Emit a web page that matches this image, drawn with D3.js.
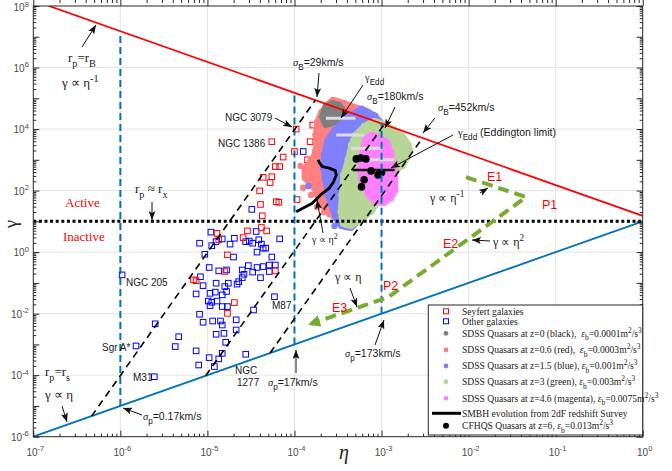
<!DOCTYPE html>
<html>
<head>
<meta charset="utf-8">
<script src="https://cdn.jsdelivr.net/npm/d3@7"></script>
<style>
  body { margin: 0; background: #fff; }
  text { white-space: pre; }
</style>
</head>
<body>
<div id="chart"></div>
<script>
// all values are log10(eta), log10(gamma)
var xTickExp = [-7, -6, -5, -4, -3, -2, -1, 0];
var yTickExp = [-6, -4, -2, 0, 2, 4, 6, 8];

var seyfert = [[-3.98,4.00],[-3.79,4.13],[-4.26,3.59],[-3.82,3.59],[-4.00,3.27],[-4.13,3.09],[-3.85,3.00],[-3.78,2.76],
  [-4.22,2.78],[-4.17,2.78],[-4.26,2.45],[-4.36,2.43],[-4.28,2.26],[-4.40,1.99],[-4.39,1.55],[-4.21,1.64],[-4.18,1.62],
  [-3.97,1.71],[-4.37,1.18],[-4.54,0.69],[-4.38,0.80],[-4.32,0.69],[-4.89,0.61],[-4.87,0.40],[-4.59,0.47],[-4.77,-0.09],
  [-4.80,-0.63],[-5.16,-0.90],[-5.13,-0.93],[-4.69,-1.64],[-4.77,-1.99],[-4.22,-0.61]];

var others = [[-4.96,0.65],[-5.09,0.29],[-4.95,0.21],[-4.90,0.34],[-4.83,0.43],[-4.74,0.26],[-4.69,0.45],[-4.56,0.34],
  [-4.52,0.36],[-4.44,0.67],[-4.48,0.29],[-4.41,0.40],[-4.38,0.26],[-4.36,0.13],[-4.43,0.00],[-4.33,0.13],[-4.17,0.43],
  [-5.03,-0.07],[-4.70,-0.16],[-4.26,-0.16],[-4.98,-0.50],[-4.87,-0.61],[-4.78,-0.58],[-4.60,-0.58],[-4.53,-0.44],
  [-4.43,-0.50],[-4.36,-0.47],[-4.29,-0.42],[-4.22,-0.42],[-4.48,-0.65],[-4.39,-0.83],[-4.29,-0.63],[-4.58,-0.72],
  [-4.60,-0.83],[-4.64,-0.96],[-4.66,-1.04],[-5.08,-0.80],[-5.05,-1.09],[-4.90,-1.01],[-4.80,-1.12],[-4.76,-1.01],
  [-5.13,-1.36],[-4.97,-1.34],[-4.91,-1.30],[-4.83,-1.39],[-4.78,-1.28],[-4.99,-1.59],[-4.95,-1.63],[-4.89,-1.59],
  [-4.97,-1.74],[-4.83,-1.77],[-4.77,-1.77],[-4.47,-1.88],[-4.23,-1.45],[-5.09,-2.02],[-5.05,-2.28],[-4.94,-2.24],
  [-4.85,-2.24],[-4.83,-2.37],[-4.67,-2.20],[-4.90,-2.67],[-4.81,-2.64],[-4.67,-2.53],[-5.60,-2.33],[-5.33,-2.75],
  [-5.37,-3.07],[-4.79,-2.93],[-5.13,-3.21],[-4.83,-3.29],[-4.56,-3.32],[-4.98,-3.43],[-4.87,-3.47],[-5.10,-3.67],
  [-4.92,-3.72],[-5.61,-4.05],[-5.98,-0.74],[-5.82,-3.05],[-3.90,3.27],[-4.49,1.39]];

// quasar samples, outline of each cloud plus stray points
var grayCloud = [[-3.68,4.41],[-3.64,4.73],[-3.56,4.84],[-3.49,4.79],[-3.44,4.60],[-3.45,4.35],[-3.51,4.24],[-3.64,4.14]];
var salmonCloud = [[-3.64,4.75],[-3.56,4.95],[-3.43,4.85],[-3.28,4.69],[-3.20,4.36],[-3.25,3.81],[-3.35,3.00],[-3.39,2.02],
  [-3.43,1.31],[-3.51,1.11],[-3.60,1.24],[-3.69,1.53],[-3.74,1.86],[-3.81,2.18],[-3.88,2.41],[-3.88,2.74],[-3.81,3.00],
  [-3.76,3.32],[-3.76,3.81],[-3.74,4.23],[-3.69,4.56]];
var salmonExtra = [[-3.90,2.09],[-3.85,2.35],[-3.93,2.80],[-3.81,1.86],[-3.74,1.47],[-3.66,1.31]];
var blueCloud = [[-3.62,3.65],[-3.54,3.97],[-3.43,4.30],[-3.35,4.46],[-3.23,4.66],[-3.09,4.46],[-2.97,4.07],[-3.00,3.65],
  [-3.14,3.00],[-3.20,2.18],[-3.23,1.53],[-3.28,0.98],[-3.35,0.79],[-3.46,0.85],[-3.53,1.11],[-3.58,1.53],[-3.62,1.86],
  [-3.65,2.35],[-3.67,2.74],[-3.66,3.16]];
var blueExtra = [[-3.07,4.43],[-2.96,4.10],[-3.54,0.85],[-3.38,0.98],[-3.84,2.15]];
var greenCloud = [[-3.30,3.81],[-3.20,4.10],[-3.08,4.26],[-2.97,4.17],[-2.85,3.97],[-2.76,3.78],[-2.69,3.48],[-2.70,3.09],
  [-2.76,2.80],[-2.84,2.61],[-2.93,2.15],[-3.02,1.70],[-3.12,1.31],[-3.23,1.05],[-3.35,0.85],[-3.44,0.92],[-3.47,1.31],
  [-3.46,1.86],[-3.44,2.51],[-3.39,3.00],[-3.35,3.48]];
var greenExtra = [[-2.67,3.32],[-2.98,1.83]];
var magentaCloud = [[-3.19,3.65],[-3.12,3.81],[-3.02,3.74],[-2.93,3.55],[-2.89,3.26],[-2.86,2.83],[-2.84,2.41],[-2.84,2.02],
  [-2.89,1.76],[-2.97,1.60],[-3.07,1.63],[-3.16,1.89],[-3.23,2.28],[-3.25,2.67],[-3.23,3.16]];
var cfhqs = [[-3.29,3.03],[-3.24,3.06],[-3.18,3.03],[-3.12,2.64],[-3.04,2.51],[-3.00,2.59],[-3.20,2.35],[-3.23,2.12]];
// gamma_Edd of each sample: [eta from, eta to, gamma]
var gammaEdd = [[-3.64,-3.30,4.35],[-3.52,-3.20,3.81],[-3.35,-3.00,3.38],[-3.20,-2.85,3.00]];
var gammaEddCfhqs = [-3.33,-2.85,2.67];
var smbh = [[-3.98,1.31],[-3.91,1.42],[-3.80,1.58],[-3.70,1.86],[-3.60,2.08],[-3.55,2.29],[-3.52,2.51],[-3.53,2.65],
  [-3.60,2.73],[-3.68,2.78],[-3.71,2.89],[-3.73,3.00]];

// boundary lines
var lineRB = [[-6.82,8],[0,1.18]];
var lineRS = [[-7,-6],[0,1]];
var lineRX = [[-7,1],[0,1]];
var sigmaP = [[[-6,-5],[-6,7.18]],[[-4,-3],[-4,5.18]],[[-3,-2],[-3,4.18]]];
var sigmaB = [[[-6.33,-5.33],[-3.76,4.94]],[[-5.02,-4.02],[-2.97,4.15]],[[-4.28,-3.28],[-2.53,3.71]]];
var evolution = [[-2.03,2.44],[-1.34,1.79],[-2.92,-1.46],[-3.81,-2.33]];

var serif = "'Liberation Serif','Times New Roman',serif";
var sans = "'Liberation Sans',Arial,sans-serif";

var W = 672, H = 471;
var margin = {top: 6, right: 29.3, bottom: 34.3, left: 33.3};

var svg = d3.select("#chart").append("svg")
  .attr("width", W).attr("height", H)
  .style("font-family", sans);

var x = d3.scaleLog().domain([1e-7, 1]).range([margin.left, W - margin.right]);
var y = d3.scaleLog().domain([1e-6, 1e8]).range([H - margin.bottom, margin.top]);
var X = function(v) { return x(Math.pow(10, v)); };
var Y = function(v) { return y(Math.pow(10, v)); };

var defs = svg.append("defs");
defs.append("clipPath").attr("id", "plot")
  .append("rect").attr("x", x.range()[0]).attr("y", y.range()[1])
  .attr("width", x.range()[1] - x.range()[0]).attr("height", y.range()[0] - y.range()[1]);
defs.append("marker").attr("id", "ah").attr("markerUnits", "userSpaceOnUse")
  .attr("markerWidth", 9).attr("markerHeight", 7).attr("refX", 9).attr("refY", 3.5).attr("orient", "auto")
  .append("path").attr("d", "M0,0L9,3.5L0,7L2,3.5Z").attr("fill", "#111");
defs.append("marker").attr("id", "gh").attr("markerUnits", "userSpaceOnUse")
  .attr("markerWidth", 12).attr("markerHeight", 12).attr("refX", 9).attr("refY", 6).attr("orient", "auto")
  .append("path").attr("d", "M0,0L12,6L0,12Z").attr("fill", "#77ac30");

// grid
var grid = svg.append("g").attr("stroke", "#e4e4e4").attr("stroke-width", 1);
grid.selectAll(".gx").data(xTickExp.slice(1, -1)).enter().append("line")
  .attr("x1", X).attr("x2", X).attr("y1", y.range()[0]).attr("y2", y.range()[1]);
grid.selectAll(".gy").data(yTickExp.slice(1, -1)).enter().append("line")
  .attr("y1", Y).attr("y2", Y).attr("x1", x.range()[0]).attr("x2", x.range()[1]);

var plot = svg.append("g").attr("clip-path", "url(#plot)");
var line = d3.line().x(function(d) { return X(d[0]); }).y(function(d) { return Y(d[1]); });
var blob = d3.line().x(function(d) { return X(d[0]); }).y(function(d) { return Y(d[1]); }).curve(d3.curveCatmullRomClosed);

// galaxies
function squares(data, color) {
  plot.append("g").selectAll("rect").data(data).enter().append("rect")
    .attr("x", function(d) { return X(d[0]) - 2.8; })
    .attr("y", function(d) { return Y(d[1]) - 2.8; })
    .attr("width", 5.6).attr("height", 5.6)
    .attr("fill", "none").attr("stroke", color).attr("stroke-width", 1);
}
squares(others, "#0000ff");
squares(seyfert, "#ff0000");

// quasar clouds
function cloud(outline, extra, color) {
  var g = plot.append("g");
  g.append("path").attr("d", blob(outline)).attr("fill", color)
    .attr("stroke", color).attr("stroke-width", 5).attr("stroke-linejoin", "round");
  g.selectAll("circle").data(outline.concat(extra)).enter().append("circle")
    .attr("cx", function(d) { return X(d[0]); }).attr("cy", function(d) { return Y(d[1]); })
    .attr("r", 3.2).attr("fill", color);
}
cloud(salmonCloud, salmonExtra, "#ff8080");
cloud(grayCloud, [], "#7f7f7f");
cloud(blueCloud, blueExtra, "#8080ff");
cloud(greenCloud, greenExtra, "#b7d596");
cloud(magentaCloud, [], "#ff80ff");

plot.append("g").selectAll("line").data(gammaEdd).enter().append("line")
  .attr("x1", function(d) { return X(d[0]); }).attr("x2", function(d) { return X(d[1]); })
  .attr("y1", function(d) { return Y(d[2]); }).attr("y2", function(d) { return Y(d[2]); })
  .attr("stroke", "#dcdcdc").attr("stroke-width", 3);
plot.append("line")
  .attr("x1", X(gammaEddCfhqs[0])).attr("x2", X(gammaEddCfhqs[1]))
  .attr("y1", Y(gammaEddCfhqs[2])).attr("y2", Y(gammaEddCfhqs[2]))
  .attr("stroke", "#111").attr("stroke-width", 2.5);

plot.append("g").selectAll("circle").data(cfhqs).enter().append("circle")
  .attr("cx", function(d) { return X(d[0]); }).attr("cy", function(d) { return Y(d[1]); })
  .attr("r", 3.8).attr("fill", "#000");

plot.append("path").attr("d", line(smbh)).attr("fill", "none")
  .attr("stroke", "#000").attr("stroke-width", 2.8).attr("stroke-linejoin", "round");

// limits
plot.append("path").attr("d", line(lineRB)).attr("stroke", "#ff0000").attr("stroke-width", 1.8).attr("fill", "none");
plot.append("path").attr("d", line(lineRS)).attr("stroke", "#0072bd").attr("stroke-width", 1.8).attr("fill", "none");
plot.append("path").attr("d", line(lineRX)).attr("stroke", "#000").attr("stroke-width", 3)
  .attr("stroke-dasharray", "3,2.6").attr("fill", "none");
sigmaP.forEach(function(s) {
  plot.append("path").attr("d", line(s)).attr("stroke", "#0072bd").attr("stroke-width", 2)
    .attr("stroke-dasharray", "7,4").attr("fill", "none");
});
sigmaB.forEach(function(s) {
  plot.append("path").attr("d", line(s)).attr("stroke", "#000").attr("stroke-width", 1.6)
    .attr("stroke-dasharray", "7,5").attr("fill", "none");
});
plot.append("path").attr("d", line(evolution)).attr("stroke", "#77ac30").attr("stroke-width", 4)
  .attr("stroke-dasharray", "11,6").attr("fill", "none").attr("marker-end", "url(#gh)");

// axes, ticks pointing inward
var xMajor = xTickExp.map(function(e) { return Math.pow(10, e); });
var yMajor = d3.range(-6, 9).map(function(e) { return Math.pow(10, e); });
var xMinor = [], yMinor = [];
d3.range(-7, 0).forEach(function(e) { for (var m = 2; m < 10; m++) xMinor.push(m * Math.pow(10, e)); });
d3.range(-6, 8).forEach(function(e) { for (var m = 2; m < 10; m++) yMinor.push(m * Math.pow(10, e)); });

function ticks(axis, vals, size, tr) {
  svg.append("g").attr("transform", tr)
    .call(axis.tickValues(vals).tickSizeInner(-size).tickSizeOuter(0).tickFormat(""))
    .call(function(g) { g.select(".domain").remove(); g.selectAll("line").attr("stroke", "#262626"); });
}
var bottom = "translate(0," + y.range()[0] + ")", top = "translate(0," + y.range()[1] + ")";
var left = "translate(" + x.range()[0] + ",0)", right = "translate(" + x.range()[1] + ",0)";
ticks(d3.axisBottom(x), xMajor, 6, bottom);
ticks(d3.axisBottom(x), xMinor, 3, bottom);
ticks(d3.axisTop(x), xMajor, 6, top);
ticks(d3.axisTop(x), xMinor, 3, top);
ticks(d3.axisLeft(y), yMajor, 6, left);
ticks(d3.axisLeft(y), yMinor, 3, left);
ticks(d3.axisRight(y), yMajor, 6, right);
ticks(d3.axisRight(y), yMinor, 3, right);

svg.append("rect").attr("x", x.range()[0]).attr("y", y.range()[1])
  .attr("width", x.range()[1] - x.range()[0]).attr("height", y.range()[0] - y.range()[1])
  .attr("fill", "none").attr("stroke", "#262626").attr("stroke-width", 1);

var tickLab = svg.append("g").attr("font-size", 10).attr("fill", "#4a4a4a");
xTickExp.forEach(function(e) {
  var t = tickLab.append("text").attr("x", X(e) + 2).attr("y", y.range()[0] + 19).attr("text-anchor", "middle");
  t.append("tspan").text("10");
  t.append("tspan").attr("dy", -5).attr("font-size", 7.5).text(e);
});
yTickExp.forEach(function(e) {
  var t = tickLab.append("text").attr("x", x.range()[0] - 4.5).attr("y", Math.max(Y(e) + 4, 11))
    .attr("text-anchor", "end");
  t.append("tspan").text("10");
  t.append("tspan").attr("dy", -4.5).attr("font-size", 7.5).text(e);
});

svg.append("text").attr("transform", "translate(17,224) rotate(-90)").attr("text-anchor", "middle")
  .attr("font-family", serif).attr("font-size", 19).attr("fill", "#262626").text("γ");
svg.append("text").attr("x", 344).attr("y", 459).attr("text-anchor", "middle")
  .attr("font-family", serif).attr("font-style", "italic").attr("font-size", 20).attr("fill", "#262626").text("η");

// annotations
function rich(sel, n) {
  var t = sel.append("text").attr("x", n.x).attr("y", n.y)
    .attr("font-family", n.f === "serif" ? serif : sans)
    .attr("font-size", n.s).attr("fill", n.c || "#1a1a1a");
  var off = 0;
  n.p.forEach(function(q) {
    var part = typeof q === "string" ? [q, ""] : q;
    var sh = part[1] === "sub" ? n.s * 0.4 : part[1] === "sup" ? -n.s * 0.42 : 0;
    var sp = t.append("tspan").attr("dy", sh - off).text(part[0]);
    if (part[1] === "sub" || part[1] === "sup") sp.attr("font-size", n.s * 0.78);
    if (part[2]) sp.attr("font-family", serif).attr("font-style", part[2] === "gi" ? "italic" : "normal");
    off = sh;
  });
}

var notes = [
  {x: 68, y: 62, f: "serif", s: 13, p: ["r", ["p", "sub"], "=r", ["B", "sub"]]},
  {x: 62, y: 87, f: "serif", s: 13, p: ["γ ∝ η", ["-1", "sup"]]},
  {x: 65, y: 206.5, f: "serif", s: 13, c: "#ff0000", p: ["Active"]},
  {x: 63, y: 240.5, f: "serif", s: 13, c: "#ff0000", p: ["Inactive"]},
  {x: 135, y: 193, f: "serif", s: 13, p: ["r", ["p", "sub"], " ≈ r", ["x", "sub"]]},
  {x: 45, y: 376, f: "serif", s: 13, p: ["r", ["p", "sub"], "=r", ["s", "sub"]]},
  {x: 45, y: 399, f: "serif", s: 13, p: ["γ ∝ η"]},
  {x: 312, y: 243, f: "serif", s: 10, p: ["γ ∝ η", ["2", "sup"]]},
  {x: 335, y: 281, f: "serif", s: 12, p: ["γ ∝ η"]},
  {x: 430, y: 202, f: "serif", s: 12, p: ["γ ∝ η", ["-1", "sup"]]},
  {x: 493, y: 246, f: "serif", s: 12, p: ["γ ∝ η", ["2", "sup"]]},
  {x: 293, y: 66, s: 10.5, p: [["σ", "", "gi"], ["B", "sub"], "=29km/s"]},
  {x: 365, y: 81, s: 10.5, p: [["γ", "", "g"], ["Edd", "sub"]]},
  {x: 367, y: 100, s: 10.5, p: [["σ", "", "gi"], ["B", "sub"], "=180km/s"]},
  {x: 438, y: 111, s: 10.5, p: [["σ", "", "gi"], ["B", "sub"], "=452km/s"]},
  {x: 458, y: 136, s: 10.5, p: [["γ", "", "g"], ["Edd", "sub"], " (Eddington limit)"]},
  {x: 225, y: 120.5, s: 10, p: ["NGC 3079"]},
  {x: 218, y: 146.5, s: 10, p: ["NGC 1386"]},
  {x: 126, y: 285.5, s: 10, p: ["NGC 205"]},
  {x: 102, y: 350.5, s: 10, p: ["Sgr A*"]},
  {x: 133, y: 380.5, s: 10, p: ["M31"]},
  {x: 272, y: 308.5, s: 10, p: ["M87"]},
  {x: 235, y: 373.5, s: 10, p: ["NGC"]},
  {x: 237, y: 385.5, s: 10, p: ["1277"]},
  {x: 143, y: 420, s: 10.5, p: [["σ", "", "gi"], ["p", "sub"], "=0.17km/s"]},
  {x: 268, y: 385.5, s: 10.5, p: [["σ", "", "gi"], ["p", "sub"], "=17km/s"]},
  {x: 345, y: 356.5, s: 10.5, p: [["σ", "", "gi"], ["p", "sub"], "=173km/s"]},
  {x: 487, y: 180.5, s: 12.5, c: "#ff0000", p: ["E1"]},
  {x: 542, y: 208.5, s: 12.5, c: "#ff0000", p: ["P1"]},
  {x: 443, y: 247.5, s: 12.5, c: "#ff0000", p: ["E2"]},
  {x: 383, y: 289.5, s: 12.5, c: "#ff0000", p: ["P2"]},
  {x: 332, y: 311.5, s: 12.5, c: "#ff0000", p: ["E3"]}
];
var ann = svg.append("g");
notes.forEach(function(n) { rich(ann, n); });

var arrows = [[82,47,96,25],[319,73,317,97],[363,85,341,118],[395,107,385,128],[435,118,423,133],[453,135,391,168],
  [275,118,292,127],[152,202,152,220],[62,406,67,422],[142,415,123,408],[296,373,296,350],[375,345,384,320],
  [350,288,357,307],[323,233,317,200],[480,193,488,188],[490,241,472,240]];
ann.selectAll("line.arr").data(arrows).enter().append("line")
  .attr("x1", function(d) { return d[0]; }).attr("y1", function(d) { return d[1]; })
  .attr("x2", function(d) { return d[2]; }).attr("y2", function(d) { return d[3]; })
  .attr("stroke", "#111").attr("stroke-width", 1).attr("marker-end", "url(#ah)");

// legend
var legendRows = [
  {m: "sq", c: "#ff0000", y: 311.3, p: ["Seyfert galaxies"]},
  {m: "sq", c: "#0000ff", y: 321.3, p: ["Other galaxies"]},
  {m: "dot", c: "#7f7f7f", y: 333.3, p: ["SDSS Quasars at z=0 (black),  ", ["ε", "", "gi"], ["b", "sub"], "=0.0001m", ["2", "sup"], "/s", ["3", "sup"]]},
  {m: "dot", c: "#ff8080", y: 350, p: ["SDSS Quasars at z=0.6 (red),  ", ["ε", "", "gi"], ["b", "sub"], "=0.0003m", ["2", "sup"], "/s", ["3", "sup"]]},
  {m: "dot", c: "#8080ff", y: 366, p: ["SDSS Quasars at z=1.5 (blue), ", ["ε", "", "gi"], ["b", "sub"], "=0.001m", ["2", "sup"], "/s", ["3", "sup"]]},
  {m: "dot", c: "#b7d596", y: 381.7, p: ["SDSS Quasars at z=3 (green), ", ["ε", "", "gi"], ["b", "sub"], "=0.003m", ["2", "sup"], "/s", ["3", "sup"]]},
  {m: "dot", c: "#ff80ff", y: 398.3, p: ["SDSS Quasars at z=4.6 (magenta), ", ["ε", "", "gi"], ["b", "sub"], "=0.0075m", ["2", "sup"], "/s", ["3", "sup"]]},
  {m: "line", c: "#000", y: 413.3, p: ["SMBH evolution from 2dF redshift Survey"]},
  {m: "big", c: "#000", y: 425.7, p: ["CFHQS Quasars at z=6, ", ["ε", "", "gi"], ["b", "sub"], "=0.013m", ["2", "sup"], "/s", ["3", "sup"]]}
];
var leg = svg.append("g");
leg.append("rect").attr("x", 428.3).attr("y", 305).attr("width", 214.4).attr("height", 130)
  .attr("fill", "#fff").attr("stroke", "#262626").attr("stroke-width", 1);
legendRows.forEach(function(r) {
  if (r.m === "sq") {
    leg.append("rect").attr("x", 443.5).attr("y", r.y - 2.5).attr("width", 5).attr("height", 5)
      .attr("fill", "none").attr("stroke", r.c).attr("stroke-width", 1);
  } else if (r.m === "dot" || r.m === "big") {
    leg.append("circle").attr("cx", 446).attr("cy", r.y).attr("r", r.m === "big" ? 3 : 2.4).attr("fill", r.c);
  } else {
    leg.append("line").attr("x1", 432).attr("x2", 461).attr("y1", r.y).attr("y2", r.y)
      .attr("stroke", r.c).attr("stroke-width", 3);
  }
  rich(leg, {x: 462, y: r.y + 3.3, f: "serif", s: 9.6, p: r.p});
});
</script>
</body>
</html>
